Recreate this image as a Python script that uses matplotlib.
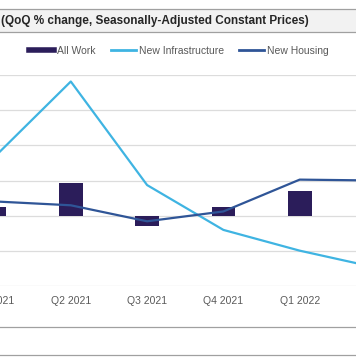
import matplotlib.pyplot as plt
from matplotlib.lines import Line2D
from matplotlib.patches import Rectangle

# quarterly QoQ % change
quarters = ['Q1 2021', 'Q2 2021', 'Q3 2021', 'Q4 2021', 'Q1 2022', 'Q2 2022']
all_work = [0.47, 1.86, -0.57, 0.47, 1.40, 0.5]
new_infrastructure = [3.34, 7.63, 1.74, -0.81, -1.99, -2.95]
new_housing = [0.81, 0.59, -0.32, 0.24, 2.05, 2.0]

title = '(QoQ % change, Seasonally-Adjusted Constant Prices)'

c_bar = '#2b1d5a'
c_infra = '#3fb4e2'
c_house = '#2f5597'
c_text = '#595959'

plt.rcParams['font.family'] = ['Liberation Sans', 'DejaVu Sans']

fig = plt.figure(figsize=(3.56, 3.64), dpi=100)
W, H = 356, 364

# plot area is wider than the crop, as in the screenshot
ax = fig.add_axes([-43.65 / W, (H - 286) / H, 457.8 / W, 211 / H])
x = list(range(len(quarters)))

ax.bar(x, all_work, width=0.31, color=c_bar, zorder=2)
ax.plot(x, new_infrastructure, color=c_infra, lw=1.6, zorder=3)
ax.plot(x, new_housing, color=c_house, lw=1.6, zorder=4)

ax.set_xlim(-0.5, 5.5)
ax.set_ylim(-4, 8)
ax.set_yticks(range(-4, 9, 2))
ax.yaxis.grid(True, color='#dcdcdc', lw=0.9, zorder=0)
ax.set_axisbelow(True)
ax.set_xticks(x)
ax.set_xticklabels(quarters, fontsize=7.5, color=c_text)
ax.tick_params(axis='x', length=0, pad=7)
ax.tick_params(axis='y', length=0, labelleft=False)
for s in ax.spines.values():
    s.set_visible(False)

# title band
fig.patches.append(Rectangle((0, (H - 32) / H), 1, 23 / H, transform=fig.transFigure,
                             facecolor='#f2f2f2', edgecolor='none', zorder=0))
for yy in (9, 32, 327, 355):
    fig.add_artist(Line2D([0, 1], [(H - yy) / H] * 2, transform=fig.transFigure,
                          color='#a0a0a0', lw=0.9))
fig.text(1 / W, (H - 21) / H, title, fontsize=8.5, fontweight='bold', color='#262626',
         ha='left', va='center')

handles = [Line2D([], [], color=c_bar, lw=4),
           Line2D([], [], color=c_infra, lw=2),
           Line2D([], [], color=c_house, lw=2)]
fig.legend(handles, ['All Work', 'New Infrastructure', 'New Housing'],
           loc='center', bbox_to_anchor=(179 / W, (H - 51) / H), ncol=3,
           frameon=False, fontsize=7.5, labelcolor=c_text,
           handlelength=2.4, handletextpad=0.25, columnspacing=1.5)

fig.savefig('out.png', dpi=100)
